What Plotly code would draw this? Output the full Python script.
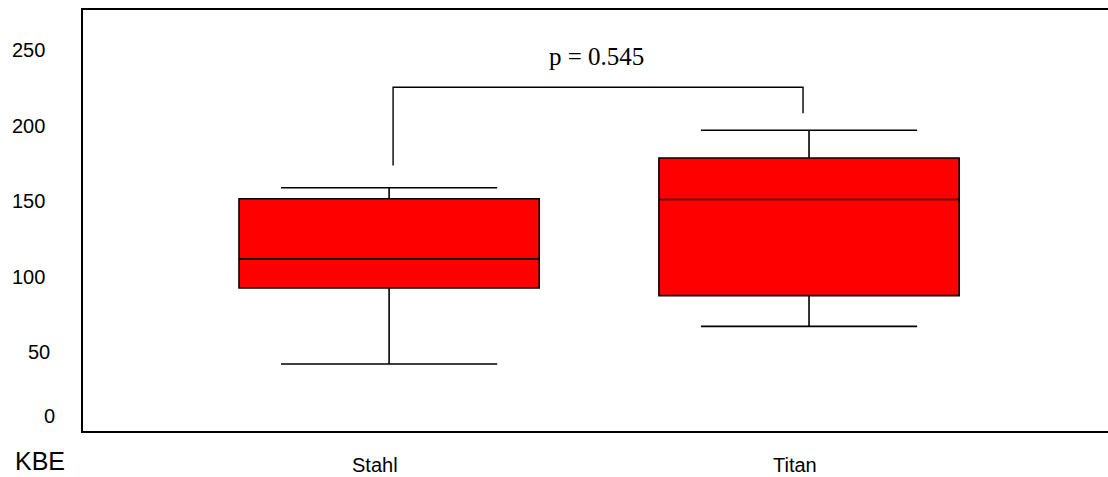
import plotly.graph_objects as go

# Box statistics per material (colony-forming units)
groups = ["Stahl", "Titan"]
q1 = [92.4, 87.3]
median = [111.7, 151.1]
q3 = [151.6, 178.6]
lower_whisker = [41.9, 66.9]
upper_whisker = [158.9, 197.0]

y_ticks = [0, 50, 100, 150, 200, 250]
p_label = "p = 0.545"
y_title = "KBE"

# Comparison bracket heights (data units)
bracket_top = 225.6
bracket_left_foot = 173.7
bracket_right_foot = 208.3
p_text_y = 246.0

fig = go.Figure()
fig.add_trace(go.Box(
    x=[0, 1],
    q1=q1, median=median, q3=q3,
    lowerfence=lower_whisker, upperfence=upper_whisker,
    fillcolor="#ff0000",
    line=dict(color="black", width=1.6),
    whiskerwidth=0.72,
    width=0.715,
    boxpoints=False,
    hoverinfo="skip",
    showlegend=False,
))

# Bracket between the two groups
fig.add_trace(go.Scatter(
    x=[0.0095, 0.0095, 0.9857, 0.9857],
    y=[bracket_left_foot, bracket_top, bracket_top, bracket_right_foot],
    mode="lines",
    line=dict(color="black", width=1.4),
    hoverinfo="skip",
    showlegend=False,
))

annotations = [
    dict(x=0.495, y=p_text_y, xref="x", yref="y", text=p_label, showarrow=False,
         font=dict(family="Liberation Serif, Times New Roman, serif", size=25, color="black")),
    dict(x=0, y=0, xref="paper", yref="paper", text=y_title, showarrow=False,
         xanchor="right", yanchor="top", xshift=-17, yshift=-15, borderpad=0,
         font=dict(family="Liberation Sans, Arial, sans-serif", size=25, color="black")),
]

# Value labels on the left axis
tick_shift = {0: (-26, 11), 50: (-31, 0)}
for v in y_ticks:
    dx, dy = tick_shift.get(v, (-36, 0))
    annotations.append(dict(
        x=0, y=v, xref="paper", yref="y", text=str(v), showarrow=False,
        xanchor="right", yanchor="middle", xshift=dx, yshift=dy,
        font=dict(family="Liberation Sans, Arial, sans-serif", size=20, color="black")))

# Group names under the boxes
for i, g in enumerate(groups):
    annotations.append(dict(
        x=i, y=0, xref="x", yref="paper", text=g, showarrow=False,
        xanchor="center", yanchor="top", xshift=-14, yshift=-22, borderpad=0,
        font=dict(family="Liberation Sans, Arial, sans-serif", size=20, color="black")))

fig.update_layout(
    width=1108, height=477,
    margin=dict(l=83, r=0, t=10, b=46),
    paper_bgcolor="white",
    plot_bgcolor="white",
    annotations=annotations,
    xaxis=dict(range=[-0.729, 1.712], showgrid=False, zeroline=False,
               showticklabels=False, ticks="",
               showline=True, linecolor="black", linewidth=2, mirror=True),
    yaxis=dict(range=[-2.5, 276.8], showgrid=False, zeroline=False,
               showticklabels=False, ticks="",
               showline=True, linecolor="black", linewidth=2),
)

fig.write_html("out.html")
